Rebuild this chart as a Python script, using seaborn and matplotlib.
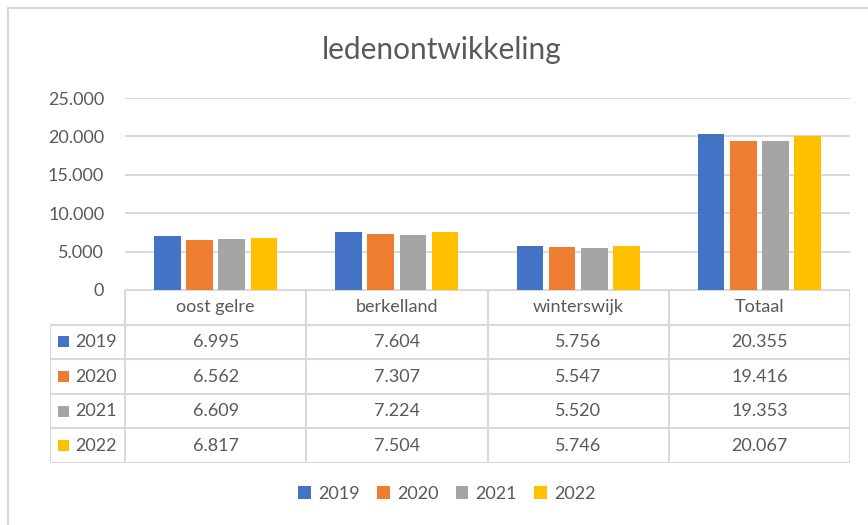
import numpy as np
import pandas as pd
import seaborn as sns
import matplotlib.pyplot as plt
from matplotlib.patches import Rectangle
from matplotlib.lines import Line2D

categories = ["oost gelre", "berkelland", "winterswijk", "Totaal"]
years = ["2019", "2020", "2021", "2022"]
leden_2019 = [6995, 7604, 5756, 20355]
leden_2020 = [6562, 7307, 5547, 19416]
leden_2021 = [6609, 7224, 5520, 19353]
leden_2022 = [6817, 7504, 5746, 20067]
colors = ["#4472C4", "#ED7D31", "#A5A5A5", "#FFC000"]

series = [leden_2019, leden_2020, leden_2021, leden_2022]
df = pd.DataFrame({
    "gemeente": categories * len(years),
    "jaar": np.repeat(years, len(categories)),
    "leden": np.concatenate(series),
})

sns.set_style("white")
plt.rcParams["font.family"] = ["Lato", "DejaVu Sans"]
txt = "#595959"
grid = "#D9D9D9"


def fmt(v):
    return f"{v:,.0f}".replace(",", ".")


W, H = 868, 525
fig = plt.figure(figsize=(W / 100, H / 100), dpi=100)


def px_axes(x0, y0, x1, y1):
    return fig.add_axes([x0 / W, 1 - y1 / H, (x1 - x0) / W, (y1 - y0) / H])


# bars
ax = px_axes(125, 98, 850, 290)
sns.barplot(data=df, x="gemeente", y="leden", hue="jaar", palette=colors,
            saturation=1, width=0.71, gap=0.17, linewidth=0, ax=ax)
handles, labels = ax.get_legend_handles_labels()
ax.get_legend().remove()
ax.set_xlim(-0.5, 3.5)
ax.set_ylim(0, 25000)
ax.set_yticks(range(0, 25001, 5000))
ax.set_yticklabels([fmt(v) for v in range(0, 25001, 5000)], color=txt, fontsize=13)
ax.tick_params(axis="y", length=0, pad=15)
ax.set_xticks([])
ax.set_xlabel("")
ax.set_ylabel("")
ax.yaxis.grid(True, color=grid, lw=1.4)
ax.set_axisbelow(True)
for s in ax.spines.values():
    s.set_visible(False)

fig.text(442 / W, 1 - 50 / H, "ledenontwikkeling", color=txt, fontsize=21.5,
         ha="center", va="center")

# data table
tx = px_axes(50, 290, 850, 463)
unit = 725 / 4
xmin = -0.5 - 75 / unit
tx.set_xlim(xmin, 3.5)
tx.set_ylim(5, 0)
tx.axis("off")
lk = dict(color=grid, lw=1.5, solid_capstyle="butt")
tx.plot([-0.5, 3.5], [0, 0], **lk)
for r in range(1, 6):
    tx.plot([xmin, 3.5], [r, r], **lk)
for i in range(5):
    tx.plot([i - 0.5, i - 0.5], [0, 5], **lk)
tx.plot([xmin, xmin], [1, 5], **lk)
for i, c in enumerate(categories):
    tx.text(i, 0.5, c, ha="center", va="center", color=txt, fontsize=13)
sq_w, sq_h = 11 / unit, 11 / (173 / 5)
for r, (yr, vals, col) in enumerate(zip(years, series, colors), start=1):
    tx.add_patch(Rectangle((xmin + 8 / unit, r + 0.5 - sq_h / 2), sq_w, sq_h,
                           color=col, lw=0))
    tx.text(xmin + 25 / unit, r + 0.5, yr, ha="left", va="center", color=txt, fontsize=13)
    for i, v in enumerate(vals):
        tx.text(i, r + 0.5, fmt(v), ha="center", va="center", color=txt, fontsize=13)

# legend
fig.legend(handles, labels, loc="center", bbox_to_anchor=(447 / W, 1 - 494 / H),
           ncol=4, frameon=False, fontsize=13, labelcolor=txt,
           handlelength=0.7, handleheight=0.7, handletextpad=0.4, columnspacing=0.95)

# chart border
fig.add_artist(Line2D([8 / W, 1], [1 - 8 / H, 1 - 8 / H], transform=fig.transFigure, color=grid, lw=1.5))
fig.add_artist(Line2D([8 / W, 8 / W], [0, 1 - 8 / H], transform=fig.transFigure, color=grid, lw=1.5))

fig.savefig("out.png", dpi=100)
